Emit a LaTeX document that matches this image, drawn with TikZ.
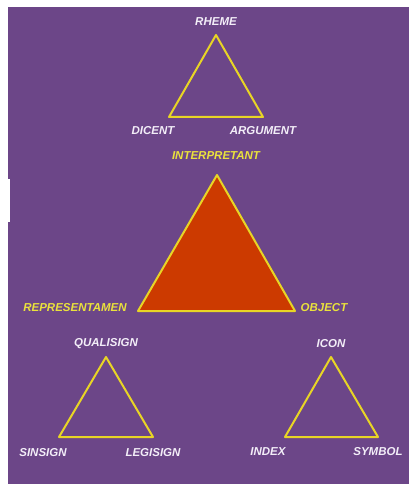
\documentclass[tikz,border=0pt]{standalone}
\usepackage{fontspec}
\setmainfont{Liberation Sans}
\usetikzlibrary{calc}

\definecolor{bgpurple}{HTML}{6C4688}
\definecolor{lineyellow}{HTML}{E8D525}
\definecolor{fillred}{HTML}{CC3A00}
\definecolor{txtyellow}{HTML}{EAE23C}
\definecolor{txtwhite}{HTML}{F3EEF8}

\begin{document}
\begin{tikzpicture}[
  x=1pt, y=-1pt,
  tri/.style={draw=lineyellow, line width=2pt, line join=round},
  maintri/.style={tri, fill=fillred},
  lbl/.style={font=\fontsize{11.5}{13}\selectfont\bfseries\itshape,
              text=txtwhite, inner sep=1pt},
  ylbl/.style={lbl, text=txtyellow},
]
  \useasboundingbox (0,0) rectangle (409,484);

  %% -- background --
  \fill[white] (0,0) rectangle (409,484);
  \fill[bgpurple] (8,7) rectangle (409,484);
  \fill[white] (0,179) rectangle (10,222);

  %% -- Rheme / Dicent / Argument --
  \coordinate (rh) at (216,35);
  \coordinate (di) at (169,117);
  \coordinate (ar) at (263,117);
  \draw[tri] (rh) -- (di) -- (ar) -- cycle;
  \node[lbl] (rheme)    at (216,22)  {RHEME};
  \node[lbl] (dicent)   at (153,131) {DICENT};
  \node[lbl] (argument) at (263,131) {ARGUMENT};

  %% -- Interpretant / Representamen / Object --
  \coordinate (in) at (217,175);
  \coordinate (re) at (138,311);
  \coordinate (ob) at (295,311);
  \draw[maintri] (in) -- (re) -- (ob) -- cycle;
  \node[ylbl] (interpretant)  at (216,156) {INTERPRETANT};
  \node[ylbl] (representamen) at (75,308)  {REPRESENTAMEN};
  \node[ylbl] (object)        at (324,308) {OBJECT};

  %% -- Qualisign / Sinsign / Legisign --
  \coordinate (qu) at (106,357);
  \coordinate (si) at (59,437);
  \coordinate (le) at (153,437);
  \draw[tri] (qu) -- (si) -- (le) -- cycle;
  \node[lbl] (qualisign) at (106,344) {QUALISIGN};
  \node[lbl] (sinsign)   at (43,453)  {SINSIGN};
  \node[lbl] (legisign)  at (153,453) {LEGISIGN};

  %% -- Icon / Index / Symbol --
  \coordinate (ic) at (331,357);
  \coordinate (ix) at (285,437);
  \coordinate (sy) at (378,437);
  \draw[tri] (ic) -- (ix) -- (sy) -- cycle;
  \node[lbl] (icon)   at (331,344) {ICON};
  \node[lbl] (index)  at (268,452) {INDEX};
  \node[lbl] (symbol) at (378,452) {SYMBOL};
\end{tikzpicture}
\end{document}
